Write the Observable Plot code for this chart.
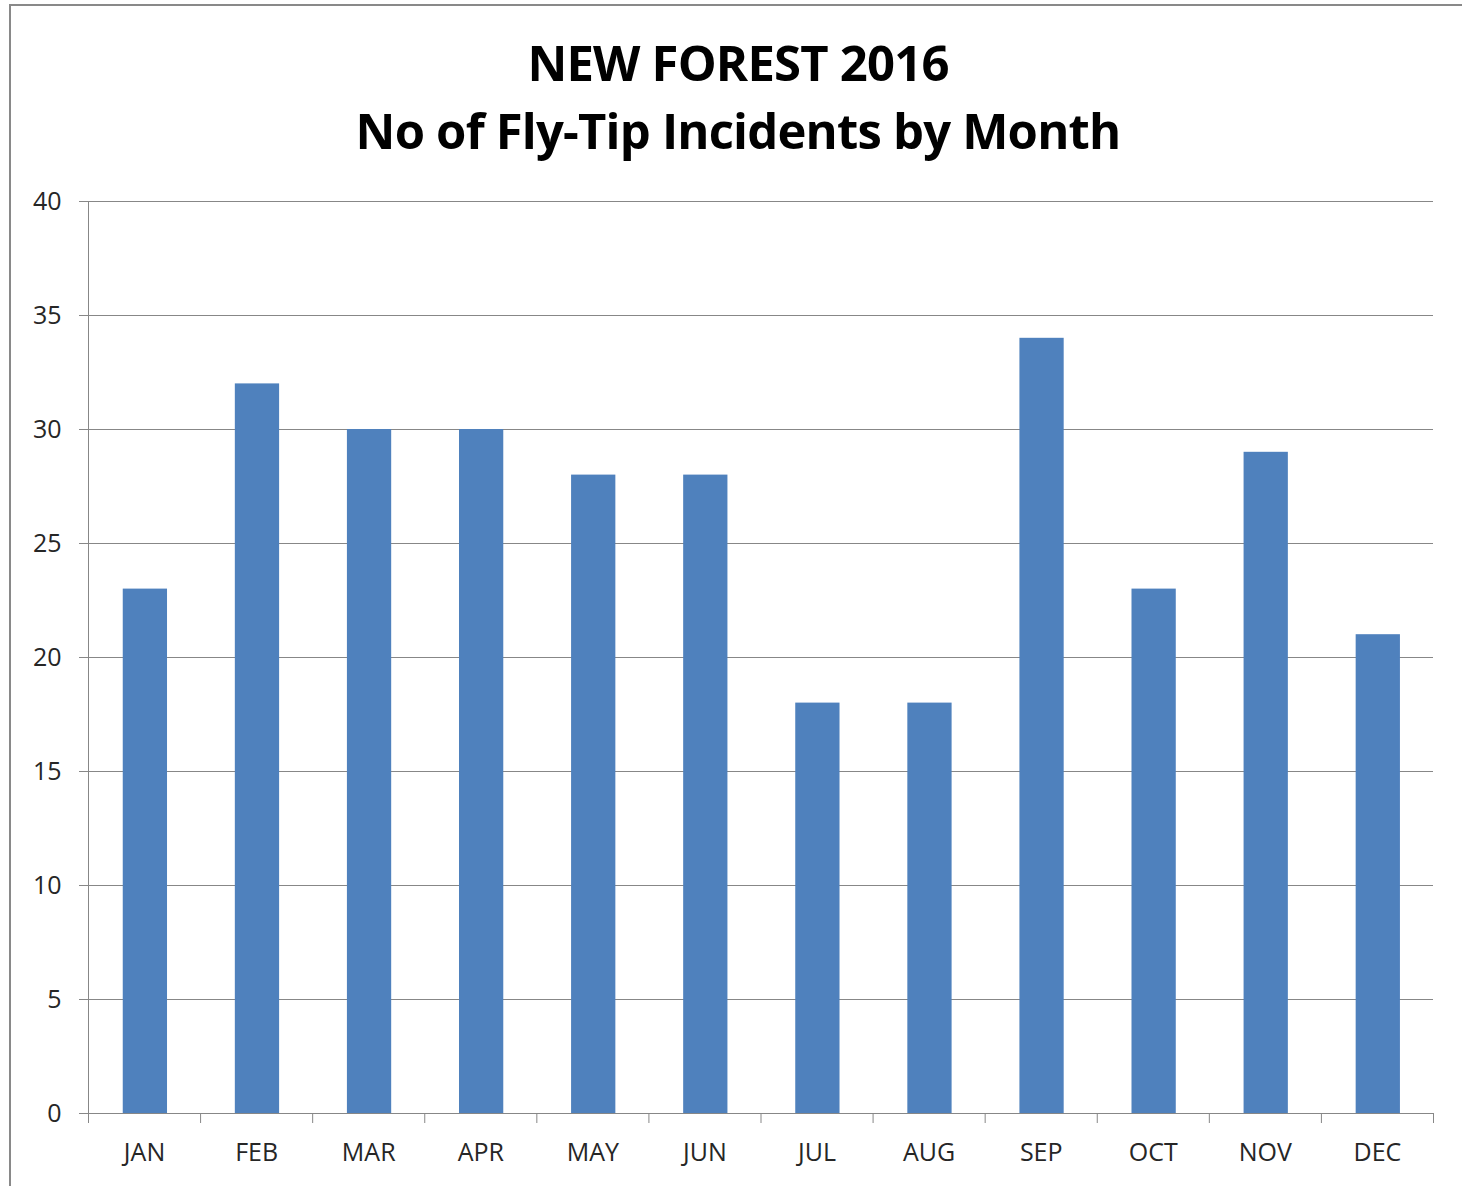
<!DOCTYPE html>
<html><head><meta charset="utf-8">
<script src="https://cdn.jsdelivr.net/npm/d3@7"></script>
<script src="https://cdn.jsdelivr.net/npm/@observablehq/plot@0.6"></script>
<style>
body{margin:0;background:#fff;}
#wrap{position:relative;width:1462px;height:1186px;overflow:hidden;background:#fff;}
#frame{position:absolute;left:9px;top:4px;width:1500px;height:1300px;border-left:2px solid #898989;border-top:2px solid #898989;pointer-events:none;}
#title{position:absolute;left:0;top:28px;width:1476px;text-align:center;font-family:"Open Sans",sans-serif;font-weight:700;font-size:49px;line-height:68px;color:#000;letter-spacing:-0.8px;}
#chart{position:absolute;left:0;top:170px;}
</style></head>
<body>
<div id="wrap">
  <div id="title"></div>
  <div id="chart"></div>
  <div id="frame"></div>
</div>
<script>
const titleLines = ["NEW FOREST 2016", "No of Fly-Tip Incidents by Month"];
const months = ["JAN","FEB","MAR","APR","MAY","JUN","JUL","AUG","SEP","OCT","NOV","DEC"];
const incidents = [23,32,30,30,28,28,18,18,34,23,29,21];
const yTicks = [0,5,10,15,20,25,30,35,40];

const data = months.map((m, i) => ({i, month: m, value: incidents[i]}));

document.getElementById("title").innerHTML = titleLines.map(t => `<div>${t}</div>`).join("");

const grid = "#878787";
const chart = Plot.plot({
  width: 1462, height: 1016,
  marginLeft: 88, marginRight: 29, marginTop: 31, marginBottom: 73,
  x: {domain: [0, months.length], axis: null, label: null},
  y: {domain: [0, 40], axis: null, label: null},
  style: {fontFamily: "'Open Sans', sans-serif", fontSize: "25px", color: "#262626", background: "transparent"},
  marks: [
    Plot.gridY(yTicks, {stroke: grid, strokeOpacity: 1}),
    Plot.axisY(yTicks, {tickSize: 9, tickPadding: 18, stroke: grid, fill: "#262626", label: null}),
    Plot.ruleX([0], {stroke: grid}),
    Plot.rectY(data, {x1: d => d.i + 0.31, x2: d => d.i + 0.705, y: "value", fill: "#4F81BD"}),
    Plot.ruleY([0], {stroke: grid}),
    Plot.axisX(d3.range(months.length + 1), {tickSize: 10, tickFormat: () => "", stroke: grid, label: null}),
    Plot.axisX(d3.range(months.length).map(i => i + 0.5), {tickSize: 0, tickPadding: 30, tickFormat: d => months[Math.floor(d)], fill: "#262626", label: null})
  ]
});
document.getElementById("chart").appendChild(chart);
</script>
</body></html>
